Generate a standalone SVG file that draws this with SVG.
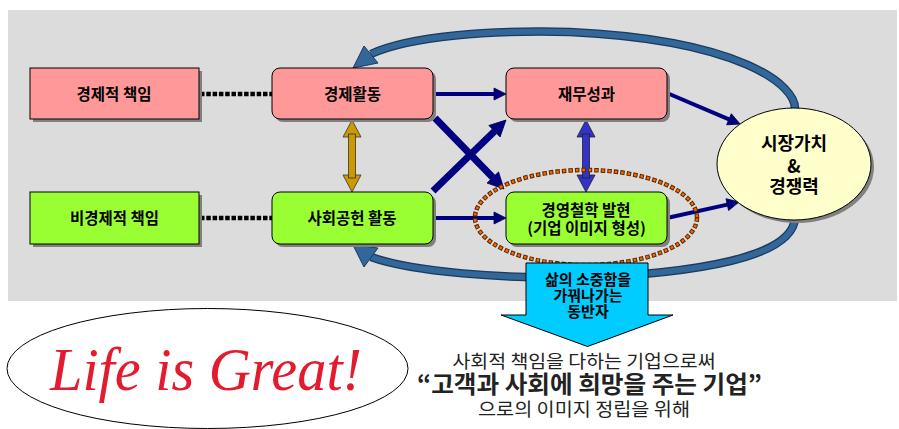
<svg xmlns="http://www.w3.org/2000/svg" width="899" height="429" viewBox="0 0 899 429">
<style>
.bg{fill:#DCDCDC}
.shadow{fill:#808080}
.pink{fill:#FF9999;stroke:#000;stroke-width:1}
.green{fill:#99FF33;stroke:#000;stroke-width:1}
.lbl{font-family:"Noto Sans CJK KR","Noto Sans",sans-serif;font-weight:bold;fill:#000;text-anchor:middle}
.dots{stroke:#000;stroke-width:4.5;stroke-dasharray:4.5 1.8;fill:none}
.nav{stroke:#000080;fill:none}
.bandO{stroke:#1A3A5E;stroke-width:8.5;fill:none}
.bandI{stroke:#336699;stroke-width:6;fill:none}
.bandH{fill:#336699;stroke:#1A3A5E;stroke-width:1}
.sub{font-family:"Noto Sans CJK KR","Noto Sans",sans-serif;fill:#222;text-anchor:middle}
</style>
<defs>
<marker id="ahS" markerUnits="userSpaceOnUse" markerWidth="12" markerHeight="12" refX="0" refY="6" orient="auto" overflow="visible">
<path d="M0,0 L12,6 L0,12 Z" fill="#000080" stroke="#000040" stroke-width="0.8"/>
</marker>
<marker id="ahL" markerUnits="userSpaceOnUse" markerWidth="16" markerHeight="16" refX="0" refY="8" orient="auto" overflow="visible">
<path d="M0,0 L16,8 L0,16 Z" fill="#000080" stroke="#000040" stroke-width="0.8"/>
</marker>
</defs>
<rect class="bg" x="8" y="10" width="889" height="291"/>

<g id="connectors">
<path class="bandO" d="M795,110 C797,85 740,40 570,32 C490,30 410,36 371,54"/>
<path class="bandI" d="M795,110 C797,85 740,40 570,32 C490,30 410,36 371,54"/>
<polygon class="bandH" points="353,68 364,46 378,63"/>
<path class="bandO" d="M795,218 C793,250 730,270 600,277 C500,280 410,271 371,257"/>
<path class="bandI" d="M795,218 C793,250 730,270 600,277 C500,280 410,271 371,257"/>
<polygon class="bandH" points="353,245 364,267 378,248"/>
<line class="dots" x1="200" y1="94" x2="272" y2="94"/>
<line class="dots" x1="200" y1="218" x2="272" y2="218"/>
<line class="nav" stroke-width="4" x1="433" y1="94" x2="494" y2="94" marker-end="url(#ahS)"/>
<line class="nav" stroke-width="4" x1="433" y1="218" x2="494" y2="218" marker-end="url(#ahS)"/>
<line class="nav" stroke-width="4" x1="667" y1="93" x2="729" y2="119.3" marker-end="url(#ahS)"/>
<line class="nav" stroke-width="4" x1="667" y1="218" x2="727.3" y2="204.6" marker-end="url(#ahS)"/>
<line class="nav" stroke-width="7" x1="435" y1="118" x2="492.8" y2="177.5" marker-end="url(#ahL)"/>
<line class="nav" stroke-width="7" x1="433" y1="191" x2="494.5" y2="131.2" marker-end="url(#ahL)"/>
<g fill="#CC9900" stroke="#333" stroke-width="0.8">
<polygon points="352,120 361,137 343,137"/>
<polygon points="352,192 361,175 343,175"/>
<rect x="348.5" y="134" width="7" height="44"/>
</g>
<g fill="#3333CC" stroke="#222" stroke-width="0.8">
<polygon points="586,120 595,137 577,137"/>
<polygon points="586,192 595,175 577,175"/>
<rect x="582.5" y="134" width="7" height="44"/>
</g>
</g>

<g id="n-econ-resp">
<rect class="shadow" x="33" y="71" width="169" height="51"/>
<rect class="pink" x="30" y="68" width="169" height="51"/>
<text class="lbl" x="114" y="99.5" font-size="15.5">경제적 책임</text>
</g>
<g id="n-nonecon-resp">
<rect class="shadow" x="33" y="195" width="169" height="52"/>
<rect class="green" x="30" y="192" width="169" height="52"/>
<text class="lbl" x="114.5" y="223.5" font-size="15.5">비경제적 책임</text>
</g>
<g id="n-econ-act">
<rect class="shadow" x="275" y="71" width="161" height="51" rx="8"/>
<rect class="pink" x="272" y="68" width="161" height="51" rx="8"/>
<text class="lbl" x="352.5" y="99.5" font-size="15.5">경제활동</text>
</g>
<g id="n-social-act">
<rect class="shadow" x="275" y="195" width="161" height="52" rx="8"/>
<rect class="green" x="272" y="192" width="161" height="52" rx="8"/>
<text class="lbl" x="352" y="223.5" font-size="15.5">사회공헌 활동</text>
</g>
<g id="n-finance">
<rect class="shadow" x="509" y="71" width="161" height="51" rx="8"/>
<rect class="pink" x="506" y="68" width="161" height="51" rx="8"/>
<text class="lbl" x="586.5" y="99.5" font-size="15.5">재무성과</text>
</g>
<g id="n-philosophy">
<rect class="shadow" x="509" y="195" width="161" height="52" rx="8"/>
<rect class="green" x="506" y="192" width="161" height="52" rx="8"/>
<text class="lbl" x="586" y="215.5" font-size="15.5">경영철학 발현</text>
<text class="lbl" x="586.5" y="234" font-size="15.5">(기업 이미지 형성)</text>
</g>
<g id="n-market">
<ellipse cx="797" cy="167" rx="77" ry="56" class="shadow"/>
<ellipse cx="794" cy="164" rx="77" ry="56" fill="#FFFFCC" stroke="#000" stroke-width="1"/>
<text class="lbl" x="794" y="149.5" font-size="18">시장가치</text>
<text class="lbl" x="794" y="172.5" font-size="18">&amp;</text>
<text class="lbl" x="794" y="192.5" font-size="18">경쟁력</text>
</g>
<g id="n-highlight">
<ellipse cx="586" cy="217.5" rx="111" ry="47.5" fill="none" stroke="#5A2A00" stroke-width="4.5" stroke-dasharray="4.5 2"/>
<ellipse cx="586" cy="217.5" rx="111" ry="47.5" fill="none" stroke="#FF6600" stroke-width="2.5" stroke-dasharray="2.5 4" stroke-dashoffset="-1"/>
</g>
<g id="n-partner">
<polygon points="526,263 648,263 648,315 673,315 587.5,346.5 501,315 526,315" fill="#00CCFF" stroke="#000" stroke-width="1"/>
<text class="lbl" x="588" y="285" font-size="15">삶의 소중함을</text>
<text class="lbl" x="588" y="301" font-size="15">가꿔나가는</text>
<text class="lbl" x="588" y="317" font-size="15">동반자</text>
</g>
<g id="n-logo">
<ellipse cx="207.5" cy="368.5" rx="200.5" ry="60" fill="#fff" stroke="#000" stroke-width="1"/>
<text x="50" y="390" font-family="'Liberation Serif',serif" font-style="italic" font-size="62" fill="#E31B2F" textLength="312" lengthAdjust="spacingAndGlyphs">Life is Great!</text>
</g>
<g id="n-slogan">
<text class="sub" x="584" y="368" font-size="18" textLength="263" lengthAdjust="spacingAndGlyphs">사회적 책임을 다하는 기업으로써</text>
<text class="sub" x="589.5" y="393" font-size="24" font-weight="bold" fill="#000" textLength="345" lengthAdjust="spacingAndGlyphs">“고객과 사회에 희망을 주는 기업”</text>
<text class="sub" x="584" y="416" font-size="18" textLength="212" lengthAdjust="spacingAndGlyphs">으로의 이미지 정립을 위해</text>
</g>
</svg>
